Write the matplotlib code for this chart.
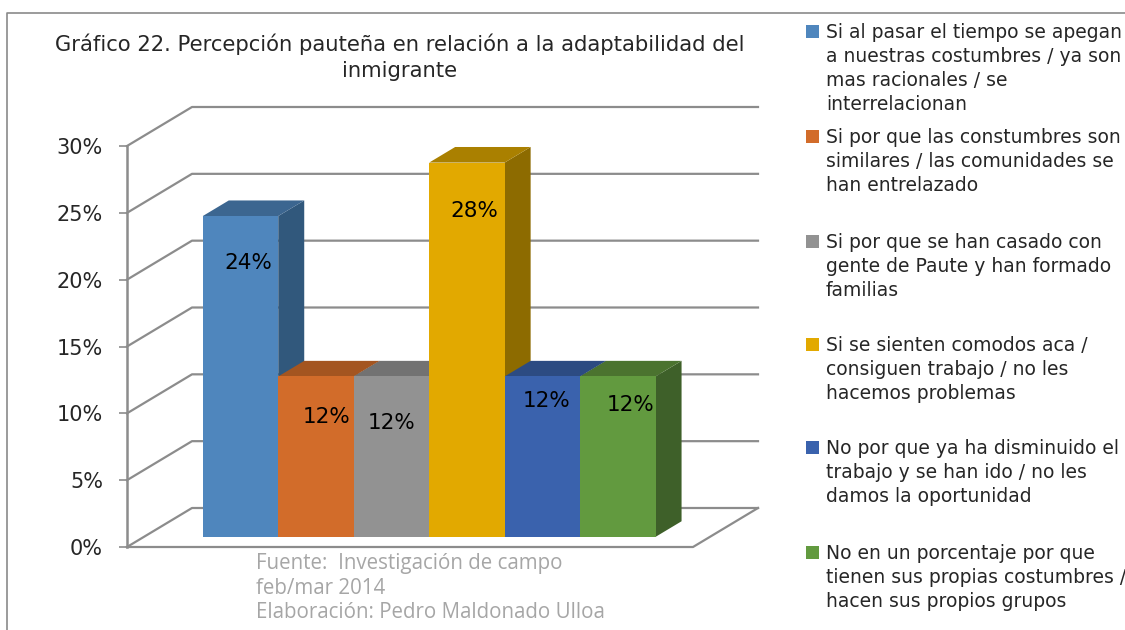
import matplotlib
matplotlib.use('Agg')
import matplotlib.pyplot as plt
from matplotlib.patches import Polygon, Rectangle
from matplotlib.lines import Line2D

titulo = 'Gráfico 22. Percepción pauteña en relación a la adaptabilidad del\ninmigrante'
fuente = 'Fuente:  Investigación de campo\nfeb/mar 2014\nElaboración: Pedro Maldonado Ulloa'

categorias = [
    'Si al pasar el tiempo se apegan\na nuestras costumbres / ya son\nmas racionales / se\ninterrelacionan',
    'Si por que las constumbres son\nsimilares / las comunidades se\nhan entrelazado',
    'Si por que se han casado con\ngente de Paute y han formado\nfamilias',
    'Si se sienten comodos aca /\nconsiguen trabajo / no les\nhacemos problemas',
    'No por que ya ha disminuido el\ntrabajo y se han ido / no les\ndamos la oportunidad',
    'No en un porcentaje por que\ntienen sus propias costumbres /\nhacen sus propios grupos',
]
valores = [24, 12, 12, 28, 12, 12]
ticks_y = [0, 5, 10, 15, 20, 25, 30]

# colores: frente, tapa, costado
frente = ['#4f86bd', '#d26c2a', '#929292', '#e2a900', '#3a62ad', '#629a3f']
tapa = ['#3c6690', '#a45520', '#727272', '#aa8000', '#2c4b82', '#4b732f']
costado = ['#31587c', '#8a4a1c', '#626262', '#8d6b00', '#264270', '#3e6029']

# posicion de cada etiqueta, no son datos
etiqueta_x = [0.60, 0.64, 0.50, 0.60, 0.55, 0.67]
etiqueta_y = [20.5, 8.95, 8.55, 24.4, 10.15, 9.9]
leyenda_y = [31, 136, 241, 344, 447, 552]

W, H = 1125, 630
X0, X1 = 127, 693
Y0, Y1 = 547, 146
GRIS = '#8c8c8c'


def fx(px):
    return px / W


def fy(py):
    return 1 - py / H


fig = plt.figure(figsize=(W / 100, H / 100), dpi=100, facecolor='white')
ax = fig.add_axes([fx(X0), fy(Y0), (X1 - X0) / W, (Y0 - Y1) / H])
ax.set_xlim(-0.78, 6.72)
ax.set_ylim(0, 30)
ax.patch.set_visible(False)

# profundidad en unidades de datos: 65 px a la derecha, 39 px hacia arriba
ux = (X1 - X0) / 7.5
uy = (Y0 - Y1) / 30
prof_x = 65 / ux
prof_y = 39 / uy


def p(x, y, d):
    return (x + d * prof_x, y + d * prof_y)


# paredes y piso
x_ini, x_fin = ax.get_xlim()
for t in ticks_y:
    ax.add_line(Line2D(*zip(p(x_ini, t, 0), p(x_ini, t, 1), p(x_fin, t, 1)),
                       color=GRIS, lw=1.6, clip_on=False, zorder=1))
ax.add_line(Line2D(*zip(p(x_ini, 0, 0), p(x_fin, 0, 0), p(x_fin, 0, 1)),
                   color=GRIS, lw=1.6, clip_on=False, zorder=1))

# barras 3d, de izquierda a derecha
d1, d2 = 0.26, 0.66
for i, v in enumerate(valores):
    z = 2 + i
    lado = [p(i + 1, 0, d1), p(i + 1, 0, d2), p(i + 1, v, d2), p(i + 1, v, d1)]
    arriba = [p(i, v, d1), p(i + 1, v, d1), p(i + 1, v, d2), p(i, v, d2)]
    cara = [p(i, 0, d1), p(i + 1, 0, d1), p(i + 1, v, d1), p(i, v, d1)]
    ax.add_patch(Polygon(lado, fc=costado[i], ec='none', clip_on=False, zorder=z))
    ax.add_patch(Polygon(arriba, fc=tapa[i], ec='none', clip_on=False, zorder=z))
    ax.add_patch(Polygon(cara, fc=frente[i], ec='none', clip_on=False, zorder=z))
    x_t, y_t = p(i + etiqueta_x[i], etiqueta_y[i], d1)
    ax.text(x_t, y_t, f'{v}%', ha='center', va='center', fontsize=15.5,
            color='black', zorder=20)

# eje y
ax.set_xticks([])
ax.set_yticks(ticks_y)
ax.set_yticklabels([f'{t}%' for t in ticks_y], fontsize=15, color='#262626')
ax.tick_params(axis='y', length=5.8, width=1.2, color=GRIS, pad=11.5)
for s in ['top', 'right', 'bottom']:
    ax.spines[s].set_visible(False)
ax.spines['left'].set_color(GRIS)
ax.spines['left'].set_linewidth(1.8)

# titulo y fuente
fig.text(fx(400), fy(57), titulo, ha='center', va='center', fontsize=15.2,
         color='#262626', linespacing=1.37)
fig.text(fx(256), fy(588), fuente, ha='left', va='center', fontsize=14.8,
         family='Open Sans', color='#a6a6a6', linespacing=1.22)

# leyenda
for i, nombre in enumerate(categorias):
    fig.add_artist(Rectangle((fx(806), fy(leyenda_y[i] + 7)), 13 / W, 13 / H,
                             transform=fig.transFigure, fc=frente[i], ec='none'))
    fig.text(fx(826), fy(leyenda_y[i] - 8), nombre, ha='left', va='top',
             fontsize=13.5, color='#262626', linespacing=1.33)

# marco
fig.add_artist(Line2D([fx(7), fx(7), fx(1125)], [0, fy(13), fy(13)],
                      transform=fig.transFigure, color='#8a8a8a', lw=1.2))

fig.savefig('out.png', dpi=100)
